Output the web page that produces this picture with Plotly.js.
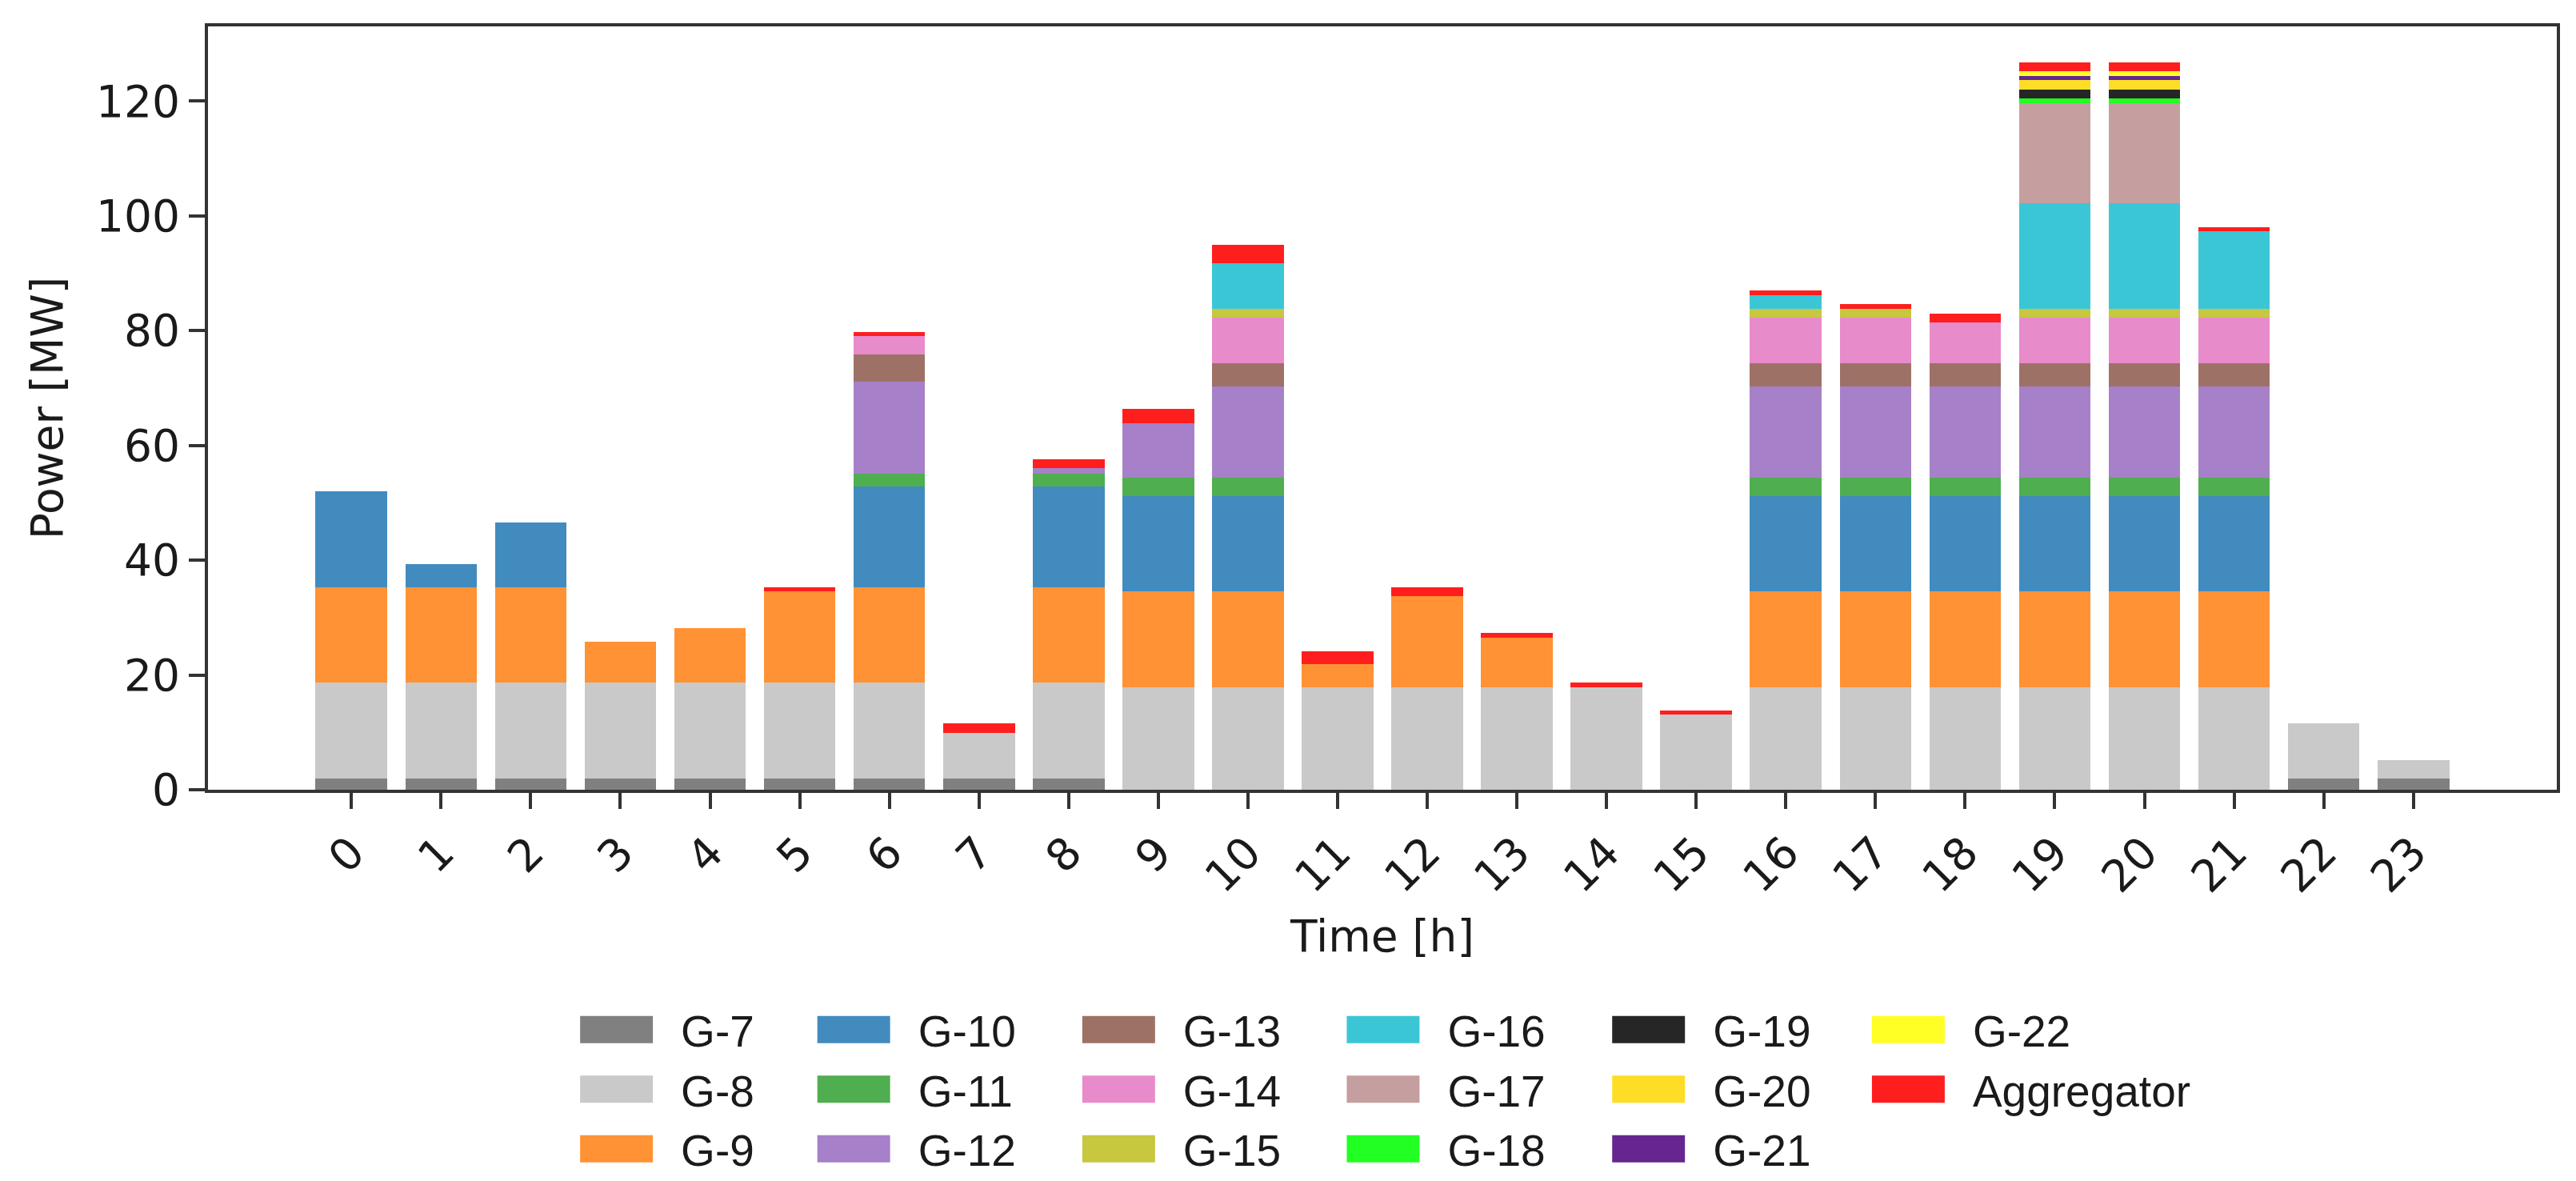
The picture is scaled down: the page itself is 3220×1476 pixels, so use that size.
<!DOCTYPE html>
<html>
<head>
<meta charset="utf-8">
<script src="https://cdn.plot.ly/plotly-3.0.1.min.js"></script>
<style>
  html, body { margin: 0; padding: 0; background: #ffffff; }
  #graph-container { width: 3220px; height: 1476px; }
</style>
</head>
<body>
<div id="graph-container"></div>
<script>
const Plotly = window.Plotly;

// Hours on the x axis
const hours = [0, 1, 2, 3, 4, 5, 6, 7, 8, 9, 10, 11, 12, 13, 14, 15, 16, 17, 18, 19, 20, 21, 22, 23];
const hourLabels = hours.map(h => String(h));

// Dispatched power per unit [MW], one value per hour
const g7  = [1.95, 1.95, 1.95, 1.95, 1.95, 1.95, 1.95, 1.95, 1.95, 0, 0, 0, 0, 0, 0, 0, 0, 0, 0, 0, 0, 0, 1.95, 1.95];
const g8  = [16.69, 16.69, 16.69, 16.69, 16.69, 16.69, 16.69, 7.99, 16.69, 17.84, 17.84, 17.84, 17.84, 17.84, 17.84, 13.05, 17.84, 17.84, 17.84, 17.84, 17.84, 17.84, 9.59, 3.2];
const g9  = [16.68, 16.68, 16.68, 7.1, 9.5, 15.89, 16.68, 0, 16.68, 16.69, 16.69, 3.99, 15.89, 8.7, 0, 0, 16.69, 16.69, 16.69, 16.69, 16.69, 16.69, 0, 0];
const g10 = [16.69, 4.0, 11.19, 0, 0, 0, 17.49, 0, 17.49, 16.68, 16.68, 0, 0, 0, 0, 0, 16.68, 16.68, 16.68, 16.68, 16.68, 16.68, 0, 0];
const g11 = [0, 0, 0, 0, 0, 0, 2.31, 0, 2.31, 3.2, 3.2, 0, 0, 0, 0, 0, 3.2, 3.2, 3.2, 3.2, 3.2, 3.2, 0, 0];
const g12 = [0, 0, 0, 0, 0, 0, 15.97, 0, 0.88, 9.49, 15.88, 0, 0, 0, 0, 0, 15.88, 15.88, 15.88, 15.88, 15.88, 15.88, 0, 0];
const g13 = [0, 0, 0, 0, 0, 0, 4.79, 0, 0, 0, 4.0, 0, 0, 0, 0, 0, 4.0, 4.0, 4.0, 4.0, 4.0, 4.0, 0, 0];
const g14 = [0, 0, 0, 0, 0, 0, 3.11, 0, 0, 0, 7.9, 0, 0, 0, 0, 0, 7.9, 7.9, 7.1, 7.9, 7.9, 7.9, 0, 0];
const g15 = [0, 0, 0, 0, 0, 0, 0, 0, 0, 0, 1.6, 0, 0, 0, 0, 0, 1.6, 1.6, 0, 1.6, 1.6, 1.6, 0, 0];
const g16 = [0, 0, 0, 0, 0, 0, 0, 0, 0, 0, 7.98, 0, 0, 0, 0, 0, 2.39, 0, 0, 18.37, 18.37, 13.48, 0, 0];
const g17 = [0, 0, 0, 0, 0, 0, 0, 0, 0, 0, 0, 0, 0, 0, 0, 0, 0, 0, 0, 17.5, 17.5, 0, 0, 0];
const g18 = [0, 0, 0, 0, 0, 0, 0, 0, 0, 0, 0, 0, 0, 0, 0, 0, 0, 0, 0, 0.74, 0.74, 0, 0, 0];
const g19 = [0, 0, 0, 0, 0, 0, 0, 0, 0, 0, 0, 0, 0, 0, 0, 0, 0, 0, 0, 1.58, 1.58, 0, 0, 0];
const g20 = [0, 0, 0, 0, 0, 0, 0, 0, 0, 0, 0, 0, 0, 0, 0, 0, 0, 0, 0, 1.62, 1.62, 0, 0, 0];
const g21 = [0, 0, 0, 0, 0, 0, 0, 0, 0, 0, 0, 0, 0, 0, 0, 0, 0, 0, 0, 0.75, 0.75, 0, 0, 0];
const g22 = [0, 0, 0, 0, 0, 0, 0, 0, 0, 0, 0, 0, 0, 0, 0, 0, 0, 0, 0, 0.83, 0.83, 0, 0, 0];
const aggregator = [0, 0, 0, 0, 0, 0.79, 0.8, 1.6, 1.6, 2.4, 3.2, 2.31, 1.59, 0.8, 0.8, 0.8, 0.8, 0.8, 1.6, 1.58, 1.58, 0.8, 0, 0];

const seriesNames = ['G-7', 'G-8', 'G-9', 'G-10', 'G-11', 'G-12', 'G-13', 'G-14', 'G-15',
    'G-16', 'G-17', 'G-18', 'G-19', 'G-20', 'G-21', 'G-22', 'Aggregator'];
const seriesValues = [g7, g8, g9, g10, g11, g12, g13, g14, g15,
    g16, g17, g18, g19, g20, g21, g22, aggregator];
const seriesColors = ['#808080', '#c9c9c9', '#ff9234', '#428bbf', '#4fae4f', '#a680c8', '#9e7166',
    '#e88bcb', '#c7c740', '#3bc6d6', '#c59f9f', '#22ff22', '#262626', '#ffdd26', '#662690',
    '#ffff26', '#ff1e1e'];

// legend is laid out column by column, three entries per column
const legendIds = ['legend', 'legend2', 'legend3', 'legend4', 'legend5', 'legend6'];
const legendColumnX = [0.1465, 0.2475, 0.3603, 0.4729, 0.5859, 0.6965];

const FONT = 'DejaVu Sans, Liberation Sans, sans-serif';
const LEGEND_FONT = 'Liberation Sans, DejaVu Sans, sans-serif';
const TEXT_COLOR = '#1a1a1a';
const AXIS_COLOR = '#333333';

function buildTraces() {
    return seriesNames.map((name, i) => ({
        type: 'bar',
        name: name,
        x: hours,
        y: seriesValues[i],
        width: 0.8,
        legend: legendIds[Math.floor(i / 3)],
        marker: { color: seriesColors[i], line: { width: 0 } },
        hoverinfo: 'x+y+name'
    }));
}

function buildLegend(col) {
    return {
        orientation: 'v',
        x: legendColumnX[col],
        xanchor: 'left',
        y: -0.2699,
        yanchor: 'top',
        traceorder: 'normal',
        itemwidth: 151,
        bgcolor: 'rgba(0,0,0,0)',
        borderwidth: 0,
        font: { family: LEGEND_FONT, size: 55, color: TEXT_COLOR }
    };
}

function buildLayout() {
    const layout = {
        width: 3220,
        height: 1476,
        barmode: 'stack',
        paper_bgcolor: '#ffffff',
        plot_bgcolor: '#ffffff',
        // keep the plot area fixed; the legends must not push the margins
        margin: { l: 260, r: 24, t: 33, b: 489, pad: 0, autoexpand: false },
        font: { family: FONT, size: 55, color: TEXT_COLOR },
        showlegend: true,
        xaxis: {
            range: [-1.6, 24.6],
            tickmode: 'array',
            tickvals: hours,
            ticktext: hourLabels,
            tickangle: -45,
            ticks: 'outside',
            ticklen: 20,
            tickwidth: 4,
            tickcolor: AXIS_COLOR,
            showline: true,
            linecolor: AXIS_COLOR,
            linewidth: 4,
            mirror: true,
            showgrid: false,
            zeroline: false,
            tickfont: { family: FONT, size: 55, color: TEXT_COLOR },
            title: { text: 'Time [h]', standoff: 25, font: { family: FONT, size: 55, color: TEXT_COLOR } }
        },
        yaxis: {
            range: [0, 133],
            dtick: 20,
            ticks: 'outside',
            ticklen: 20,
            tickwidth: 4,
            tickcolor: AXIS_COLOR,
            showline: true,
            linecolor: AXIS_COLOR,
            linewidth: 4,
            mirror: true,
            showgrid: false,
            zeroline: false,
            tickfont: { family: FONT, size: 55, color: TEXT_COLOR },
            title: { text: 'Power [MW]', standoff: 25, font: { family: FONT, size: 55, color: TEXT_COLOR } }
        }
    };
    legendIds.forEach((id, col) => { layout[id] = buildLegend(col); });
    return layout;
}

// Plotly draws bar legend symbols as fixed 12x12 squares; stretch them to the
// wide matplotlib-style patches of the original figure
function stretchLegendPatches(gd) {
    gd.querySelectorAll('.legendpoints path').forEach(p => {
        const t = p.getAttribute('transform') || '';
        if (t.indexOf('scale') === -1) {
            p.setAttribute('transform', t + ' scale(7.58,2.83)');
        }
        p.style.strokeWidth = '0px';
    });
}

const graphContainer = document.getElementById('graph-container');
Plotly.newPlot(graphContainer, buildTraces(), buildLayout(), { staticPlot: true, displayModeBar: false })
    .then(gd => stretchLegendPatches(gd));
</script>
</body>
</html>
